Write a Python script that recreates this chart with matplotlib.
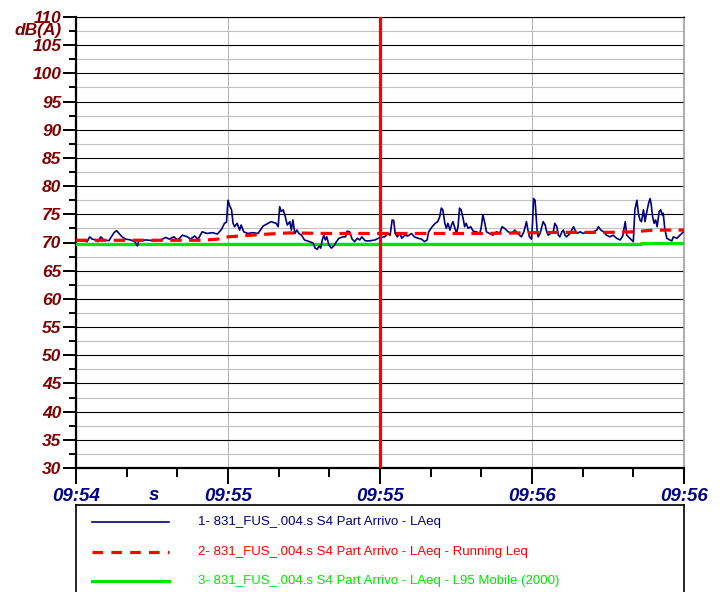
import numpy as np
import matplotlib
matplotlib.use('Agg')
import matplotlib.pyplot as plt
from matplotlib.ticker import MultipleLocator, FixedLocator

# ---- data (seconds from 09:54:50, dB(A)) ----
laeq_t = [0.3, 1.2, 2.2, 2.7, 3.2, 3.9, 4.3, 4.9, 5.5, 6.5, 7.5, 8.0, 8.5, 9.1, 9.8, 10.8, 11.6, 12.1, 12.4,
          13.8, 15.4, 16.7, 17.7, 18.4, 19.3, 20.1, 21.0, 22.0, 22.6, 23.4, 24.1, 24.9, 25.9, 26.9, 27.9,
          28.7, 29.3, 29.7, 30.0, 30.3, 30.7, 31.0, 31.3, 31.8, 32.3, 32.6, 33.1, 33.9, 34.9, 35.9, 36.4,
          36.9, 37.9, 38.5, 39.5, 39.9, 40.2, 40.5, 40.9, 41.3, 41.7, 42.2, 42.5, 42.8, 43.2, 43.6, 44.0,
          44.5, 45.1, 46.1, 46.8, 47.2, 47.6, 48.0, 48.3, 48.6, 48.9, 49.2, 49.5, 49.9, 50.4, 50.9, 51.4,
          51.9, 52.7, 53.2, 53.5, 54.0, 54.5, 55.0, 55.5, 56.0, 56.4, 57.1, 58.0, 59.0, 59.9, 60.9, 61.6,
          62.0, 62.4, 62.7, 63.0, 63.4, 63.9, 64.3, 64.9, 65.5, 66.2, 66.8, 67.5, 68.2, 68.8, 69.3, 69.6,
          70.3, 70.9, 71.4, 71.8, 72.1, 72.4, 72.8, 73.1, 73.4, 73.8, 74.1, 74.4, 74.7, 75.1, 75.4, 75.7,
          76.0, 76.4, 76.7, 77.0, 77.4, 77.9, 78.4, 79.0, 79.7, 80.0, 80.3, 80.7, 81.0, 81.6, 82.3, 83.0,
          83.6, 84.1, 84.6, 85.3, 85.9, 86.6, 87.2, 87.9, 88.4, 88.9, 89.2, 89.5, 89.9, 90.1, 90.3, 90.6,
          91.0, 91.2, 91.6, 92.2, 92.6, 92.9, 93.2, 93.7, 94.2, 94.5, 94.9, 95.2, 95.5, 95.9, 96.2, 96.5,
          96.8, 97.5, 98.2, 98.5, 98.9, 99.5, 100.1, 100.8, 101.4, 102.1, 102.8, 103.1, 103.6, 104.1,
          104.7, 105.4, 106.0, 106.7, 107.4, 107.9, 108.4, 108.7, 109.3, 110.0, 110.3, 110.7, 111.0, 111.3,
          111.6, 112.0, 112.3, 112.6, 113.0, 113.3, 113.5, 113.8, 114.1, 114.4, 114.7, 115.1, 115.4, 115.7,
          115.9, 116.2, 116.6, 117.2, 117.6, 117.9, 118.6, 119.2, 119.9]
laeq_v = [70.45, 70.33, 70.15, 71.0, 70.6, 70.45, 70.15, 71.0, 70.45, 70.33, 71.75, 72.1, 71.6, 71.0, 70.6,
          70.45, 70.15, 69.4, 70.33, 70.45, 70.33, 70.45, 70.9, 70.6, 71.0, 70.45, 71.3, 71.0, 70.6, 71.15,
          70.6, 71.9, 71.6, 71.75, 71.5, 72.3, 73.4, 73.6, 77.5, 76.6, 75.8, 73.4, 72.8, 73.4, 72.2, 73.1,
          71.9, 71.6, 71.75, 71.6, 72.2, 72.9, 73.4, 73.7, 73.4, 72.8, 76.35, 75.5, 75.8, 74.6, 73.1, 73.7,
          72.2, 74.0, 71.6, 72.2, 71.6, 71.3, 70.45, 70.15, 69.9, 69.0, 68.8, 69.4, 69.0, 70.45, 71.3, 70.45,
          71.0, 69.6, 69.0, 69.4, 70.15, 70.75, 71.0, 71.0, 72.0, 71.9, 70.6, 70.15, 70.75, 70.45, 71.0,
          70.3, 70.3, 70.45, 70.85, 71.0, 71.6, 71.3, 74.0, 73.9, 71.6, 71.0, 71.6, 70.75, 71.3, 71.15,
          71.6, 71.0, 70.75, 70.6, 70.15, 70.45, 71.9, 72.8, 73.4, 73.7, 74.6, 76.1, 75.8, 73.4, 72.5,
          73.4, 72.2, 73.1, 73.7, 72.8, 71.6, 72.8, 76.1, 75.8, 74.3, 72.8, 73.4, 72.5, 72.8, 72.0, 71.9,
          71.6, 72.8, 74.9, 73.4, 71.9, 71.6, 71.3, 71.9, 71.6, 72.8, 72.5, 71.9, 71.6, 72.2, 71.6, 71.0,
          71.9, 73.7, 72.2, 71.0, 70.6, 73.4, 77.8, 77.5, 72.2, 71.0, 71.6, 73.7, 73.1, 71.9, 71.3, 71.6,
          71.9, 73.4, 72.8, 71.3, 71.0, 71.9, 72.2, 71.3, 71.0, 71.6, 72.8, 72.2, 71.6, 71.9, 71.6, 71.9,
          71.6, 71.9, 72.2, 72.8, 72.2, 71.9, 71.3, 71.0, 71.3, 70.75, 70.45, 71.15, 73.7, 71.3, 70.75,
          70.15, 75.8, 77.5, 75.2, 74.0, 73.7, 75.8, 73.7, 75.2, 76.9, 77.8, 76.9, 74.6, 73.4, 74.0, 72.8,
          75.5, 75.8, 74.9, 75.2, 72.5, 70.75, 70.45, 70.3, 71.0, 70.75, 71.3, 71.9]

running_t = [0, 25, 28, 30, 33, 38, 42, 50, 60, 80, 95, 105, 110, 114, 120]
running_v = [70.4, 70.4, 70.6, 71.0, 71.2, 71.5, 71.7, 71.6, 71.6, 71.6, 71.8, 71.8, 71.9, 72.2, 72.2]

l95_t = [0, 111.5, 120]
l95_v = [69.7, 70.0, 70.0]

cursor_t = 60
xtick_pos = [0, 30, 60, 90, 120]
xtick_labels = ['09:54', '09:55', '09:55', '09:56', '09:56']
legend_labels = ['1- 831_FUS_.004.s S4 Part Arrivo - LAeq',
                 '2- 831_FUS_.004.s S4 Part Arrivo - LAeq - Running Leq',
                 '3- 831_FUS_.004.s S4 Part Arrivo - LAeq - L95 Mobile (2000)']

# ---- style ----
W, H = 723, 592
navy = '#000080'
maroon = '#800000'
red = '#ff0000'
green = '#00e600'
plt.rcParams['font.family'] = ['Liberation Sans', 'DejaVu Sans']
plt.rcParams['font.weight'] = 'bold'
plt.rcParams['font.style'] = 'italic'

fig = plt.figure(figsize=(W / 100, H / 100), dpi=100)
ax = fig.add_axes([76 / W, 1 - 468 / H, 608 / W, 451 / H])

ax.plot(l95_t, l95_v, color=green, lw=2.3, drawstyle='steps-post', zorder=3)
ax.plot(laeq_t, laeq_v, color=navy, lw=1.2, zorder=4)
ax.plot(running_t, running_v, color=red, lw=2.3, dashes=(3.6, 2.3), zorder=5)
ax.axvline(cursor_t, color=red, lw=2.3, zorder=6)

ax.set_xlim(0, 120)
ax.set_ylim(30, 110)

ax.yaxis.set_major_locator(MultipleLocator(5))
ax.yaxis.set_minor_locator(MultipleLocator(2.5))
ax.xaxis.set_major_locator(FixedLocator(xtick_pos))
ax.xaxis.set_minor_locator(MultipleLocator(10))
ax.set_xticklabels(xtick_labels)

ax.grid(which='major', axis='y', color='black', lw=0.8)
ax.grid(which='minor', axis='y', color='#c0c0c0', lw=0.8)
ax.grid(which='major', axis='x', color='#b8b8b8', lw=0.8)

for s in ['left', 'bottom']:
    ax.spines[s].set_linewidth(1.6)
ax.spines['top'].set_linewidth(0.8)
ax.spines['right'].set_color('#a0a0a0')
ax.spines['right'].set_linewidth(1.2)

ax.tick_params(axis='y', which='major', length=9.5, width=1.4, pad=1, labelcolor=maroon, labelsize=12.5)
ax.tick_params(axis='y', which='minor', length=5, width=1.4)
ax.tick_params(axis='x', which='major', length=11.5, width=1.4, pad=3, labelcolor=navy, labelsize=13.5)
ax.tick_params(axis='x', which='minor', length=6.5, width=1.4)

fig.text(62 / W, 1 - 30 / H, 'dB(A)', ha='right', va='center', color=maroon, fontsize=12.5)
ax.text(15.3, -0.062, 's', transform=ax.get_xaxis_transform(), ha='center', va='center',
        color=navy, fontsize=13.5)

# ---- legend box below ----
lax = fig.add_axes([76 / W, 0, 608 / W, 87 / H])
lax.set_xlim(0, 608)
lax.set_ylim(87, 0)
lax.set_xticks([])
lax.set_yticks([])
lax.spines['bottom'].set_visible(False)
for s in ['left', 'top', 'right']:
    lax.spines[s].set_linewidth(1.2)
lax.patch.set_alpha(0)
row_y = [17, 47, 76]
lax.plot([16, 93], [row_y[0]] * 2, color=navy, lw=1.2)
lax.plot([16, 93], [row_y[1]] * 2, color=red, lw=2.3, dashes=(3.3, 2.6))
lax.plot([16, 93], [row_y[2]] * 2, color=green, lw=2.3)
for y, c, t in zip(row_y, [navy, red, green], legend_labels):
    lax.text(122, y, t, color=c, fontsize=9.5, va='center', ha='left', fontweight='normal',
             fontstyle='normal', family=['Liberation Sans Narrow', 'Liberation Sans', 'DejaVu Sans'])

fig.savefig('out.png', dpi=100)
